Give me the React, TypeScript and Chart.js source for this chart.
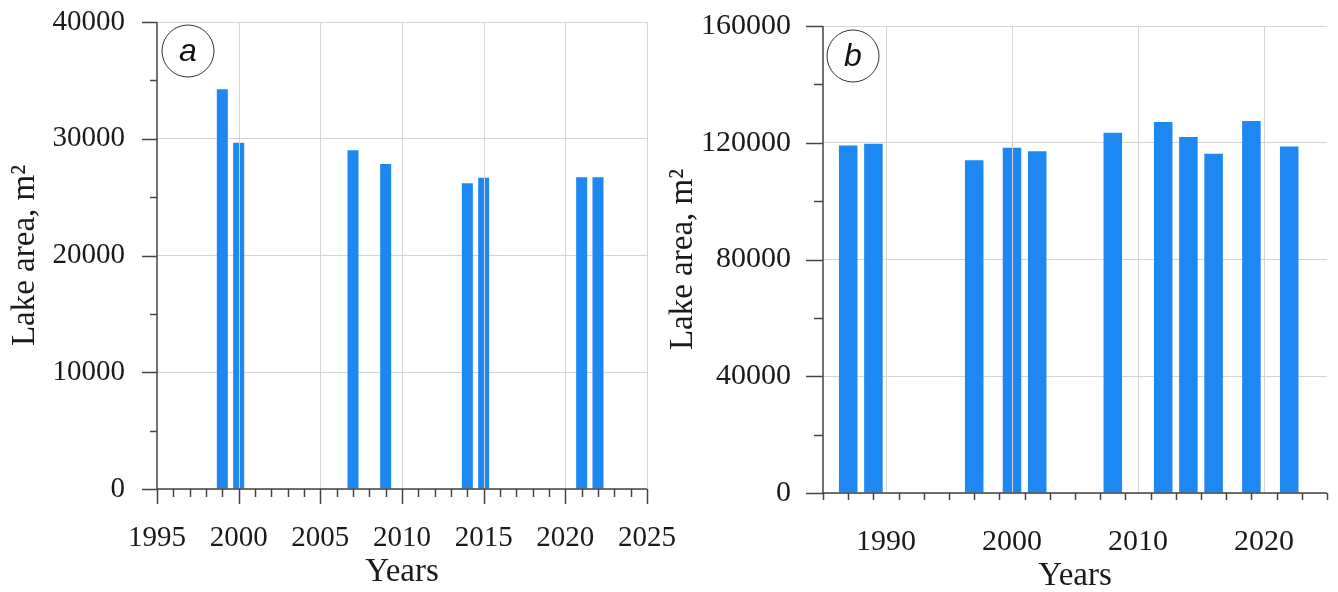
import React, { useEffect, useRef } from "react";
import { Chart, registerables } from "chart.js";

Chart.register(...registerables);

// Panel a: lake area by survey year
const yearsA = [1999, 2000, 2007, 2009, 2014, 2015, 2021, 2022];
const areaA = [34240, 29660, 29010, 27840, 26180, 26670, 26700, 26700];

// Panel b: lake area by survey year
const yearsB = [1987, 1989, 1997, 2000, 2002, 2008, 2012, 2014, 2016, 2019, 2022];
const areaB = [119100, 119660, 114000, 118250, 117050, 123420, 127150, 121960, 116200, 127490, 118730];

const X_TITLE = "Years";
const Y_TITLE = "Lake area, m\u00B2";

const BAR_BLUE = "#1e88f2";
const AXIS_COLOR = "#444444";
const GRID_COLOR = "#d4d4d4";
const TEXT_COLOR = "#1a1a1a";
const SERIF = '"Liberation Serif", "Times New Roman", serif';
const SANS = '"Liberation Sans", Arial, sans-serif';

type PanelConfig = {
  tag: string;
  years: number[];
  values: number[];
  xMin: number;
  xMax: number;
  xMajor: number;
  xMinor: number;
  yMax: number;
  yMajor: number;
  yMinor: number;
  canvasLeft: number;
  canvasWidth: number;
  padTop: number;
  padRight: number;
  yWidth: number;
  xHeight: number;
  tickFont: number;
  titleFont: number;
  yLabelPad: number;
  xLabelPad: number;
  yTitlePad: number;
  xTitlePadBottom: number;
  categoryPercentage: number;
  barPercentage: number;
  yMajorLen: number;
  yMinorLen: number;
  xMajorLen: number;
  xMinorLen: number;
  tagDx: number;
  tagDy: number;
  tagR: number;
};

const isMultiple = (v: number, step: number) => Math.abs(v / step - Math.round(v / step)) < 1e-6;

// Axis lines, tick marks (major + minor), vertical grid on top of bars, and the panel tag
const axisFramePlugin = {
  id: "axisFrame",
  afterDatasetsDraw(chart: any, _args: any, opts: any) {
    const { ctx, chartArea } = chart;
    const xs = chart.scales.x;
    const ys = chart.scales.y;
    const { left, right, top, bottom } = chartArea;
    ctx.save();

    // vertical grid lines
    ctx.strokeStyle = GRID_COLOR;
    ctx.lineWidth = 1;
    for (const t of xs.ticks) {
      if (t.value <= xs.min || !isMultiple(t.value, opts.xMajor)) continue;
      const px = Math.round(xs.getPixelForValue(t.value)) + 0.5;
      ctx.beginPath();
      ctx.moveTo(px, top);
      ctx.lineTo(px, bottom);
      ctx.stroke();
    }

    ctx.strokeStyle = AXIS_COLOR;
    ctx.lineWidth = 1.5;

    // y ticks
    const yCount = Math.round((ys.max - ys.min) / opts.yMinor);
    for (let i = 0; i <= yCount; i++) {
      const v = ys.min + i * opts.yMinor;
      const len = isMultiple(v, opts.yMajor) ? opts.yMajorLen : opts.yMinorLen;
      const py = Math.round(ys.getPixelForValue(v)) + 0.5;
      ctx.beginPath();
      ctx.moveTo(left - len, py);
      ctx.lineTo(left, py);
      ctx.stroke();
    }

    // x ticks
    const xCount = Math.round((xs.max - xs.min) / opts.xMinor);
    for (let i = 0; i <= xCount; i++) {
      const v = xs.min + i * opts.xMinor;
      const len = isMultiple(v, opts.xMajor) ? opts.xMajorLen : opts.xMinorLen;
      const px = Math.round(xs.getPixelForValue(v)) + 0.5;
      ctx.beginPath();
      ctx.moveTo(px, bottom);
      ctx.lineTo(px, bottom + len);
      ctx.stroke();
    }

    // axis lines
    ctx.beginPath();
    ctx.moveTo(left, top);
    ctx.lineTo(left, bottom);
    ctx.moveTo(left, bottom);
    ctx.lineTo(right, bottom);
    ctx.stroke();

    // panel tag in a circle
    const cx = left + opts.tagDx;
    const cy = top + opts.tagDy;
    ctx.fillStyle = "#ffffff";
    ctx.strokeStyle = "#333333";
    ctx.lineWidth = 1;
    ctx.beginPath();
    ctx.arc(cx, cy, opts.tagR, 0, Math.PI * 2);
    ctx.fill();
    ctx.stroke();
    ctx.fillStyle = "#111111";
    ctx.font = `italic 32px ${SANS}`;
    ctx.textAlign = "center";
    ctx.textBaseline = "middle";
    ctx.fillText(opts.tag, cx, cy + 1);

    ctx.restore();
  },
};

function Panel({ cfg }: { cfg: PanelConfig }) {
  const ref = useRef<HTMLCanvasElement | null>(null);

  useEffect(() => {
    if (!ref.current) return;
    const chart = new Chart(ref.current, {
      type: "bar",
      data: {
        datasets: [
          {
            data: cfg.years.map((yr, i) => ({ x: yr, y: cfg.values[i] })),
            backgroundColor: BAR_BLUE,
            borderWidth: 0,
            categoryPercentage: cfg.categoryPercentage,
            barPercentage: cfg.barPercentage,
          },
        ],
      },
      options: {
        responsive: false,
        animation: false,
        events: [],
        layout: { padding: { left: 0, top: cfg.padTop, right: cfg.padRight, bottom: 0 } },
        plugins: {
          legend: { display: false },
          tooltip: { enabled: false },
          axisFrame: {
            tag: cfg.tag,
            xMajor: cfg.xMajor,
            xMinor: cfg.xMinor,
            yMajor: cfg.yMajor,
            yMinor: cfg.yMinor,
            yMajorLen: cfg.yMajorLen,
            yMinorLen: cfg.yMinorLen,
            xMajorLen: cfg.xMajorLen,
            xMinorLen: cfg.xMinorLen,
            tagDx: cfg.tagDx,
            tagDy: cfg.tagDy,
            tagR: cfg.tagR,
          },
        } as any,
        scales: {
          x: {
            type: "linear",
            min: cfg.xMin,
            max: cfg.xMax,
            offset: false,
            grid: { display: false, drawTicks: false },
            border: { display: false },
            afterBuildTicks: (s: any) => {
              // labelled years: multiples of the major step inside the range
              const ticks = [];
              const first = Math.ceil(cfg.xMin / cfg.xMajor) * cfg.xMajor;
              for (let v = first; v <= cfg.xMax; v += cfg.xMajor) ticks.push({ value: v });
              s.ticks = ticks;
            },
            ticks: {
              autoSkip: false,
              maxRotation: 0,
              padding: cfg.xLabelPad,
              color: TEXT_COLOR,
              font: { family: SERIF, size: cfg.tickFont },
              callback: (v: any) => String(v),
            },
            title: {
              display: true,
              text: X_TITLE,
              color: TEXT_COLOR,
              font: { family: SERIF, size: cfg.titleFont },
              padding: { top: 0, bottom: cfg.xTitlePadBottom },
            },
            afterFit: (s: any) => {
              s.height = cfg.xHeight;
              s.paddingLeft = 0;
              s.paddingRight = 0;
            },
          },
          y: {
            type: "linear",
            min: 0,
            max: cfg.yMax,
            grid: { color: GRID_COLOR, lineWidth: 1, drawTicks: false },
            border: { display: false },
            ticks: {
              stepSize: cfg.yMajor,
              padding: cfg.yLabelPad,
              color: TEXT_COLOR,
              font: { family: SERIF, size: cfg.tickFont },
              callback: (v: any) => String(v),
            },
            title: {
              display: true,
              text: Y_TITLE,
              color: TEXT_COLOR,
              font: { family: SERIF, size: cfg.titleFont },
              padding: { top: cfg.yTitlePad, bottom: 0 },
            },
            afterFit: (s: any) => {
              s.width = cfg.yWidth;
              s.paddingTop = 0;
              s.paddingBottom = 0;
            },
          },
        } as any,
      },
      plugins: [axisFramePlugin],
    });
    return () => chart.destroy();
  }, [cfg]);

  return (
    <canvas
      ref={ref}
      width={cfg.canvasWidth}
      height={592}
      style={{ position: "absolute", left: cfg.canvasLeft, top: 0 }}
    />
  );
}

const panelA: PanelConfig = {
  tag: "a",
  years: yearsA,
  values: areaA,
  xMin: 1995,
  xMax: 2025,
  xMajor: 5,
  xMinor: 1,
  yMax: 40000,
  yMajor: 10000,
  yMinor: 5000,
  canvasLeft: 0,
  canvasWidth: 700,
  padTop: 22,
  padRight: 53,
  yWidth: 157,
  xHeight: 103,
  tickFont: 29,
  titleFont: 33,
  yLabelPad: 32,
  xLabelPad: 32,
  yTitlePad: 6,
  xTitlePadBottom: 0,
  categoryPercentage: 0.75,
  barPercentage: 0.9,
  yMajorLen: 15,
  yMinorLen: 7,
  xMajorLen: 15,
  xMinorLen: 8,
  tagDx: 31,
  tagDy: 29,
  tagR: 26,
};

const panelB: PanelConfig = {
  tag: "b",
  years: yearsB,
  values: areaB,
  xMin: 1985,
  xMax: 2025,
  xMajor: 10,
  xMinor: 2,
  yMax: 160000,
  yMajor: 40000,
  yMinor: 20000,
  canvasLeft: 665,
  canvasWidth: 673,
  padTop: 26,
  padRight: 11,
  yWidth: 158,
  xHeight: 99,
  tickFont: 30,
  titleFont: 33,
  yLabelPad: 32,
  xLabelPad: 31,
  yTitlePad: -1,
  xTitlePadBottom: -4,
  categoryPercentage: 0.8,
  barPercentage: 0.92,
  yMajorLen: 17,
  yMinorLen: 9,
  xMajorLen: 15,
  xMinorLen: 7,
  tagDx: 30,
  tagDy: 30,
  tagR: 26,
};

export default function App() {
  return (
    <div
      style={{
        position: "absolute",
        left: 0,
        top: 0,
        width: 1338,
        height: 592,
        background: "#ffffff",
        overflow: "hidden",
      }}
    >
      <Panel cfg={panelA} />
      <Panel cfg={panelB} />
    </div>
  );
}
